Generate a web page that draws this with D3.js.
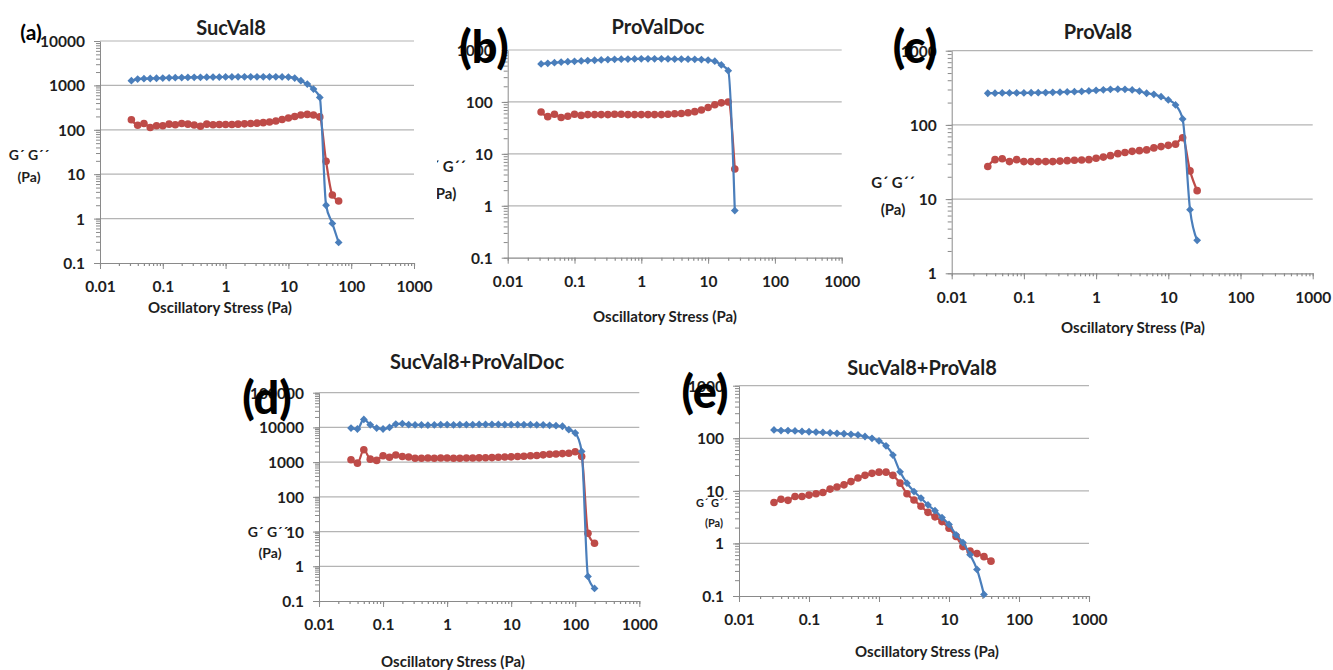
<!DOCTYPE html>
<html>
<head>
<meta charset="utf-8">
<script src="https://cdn.jsdelivr.net/npm/d3@7"></script>
<style>
  body { margin: 0; background: #fff; }
  svg { display: block; font-family: Lato, "Open Sans", sans-serif; font-weight: bold; }
</style>
</head>
<body>
<script>
var width = 1333;
var height = 670;

// shared oscillatory stress steps (Pa), 10 per decade
var stress = [0.0316, 0.0398, 0.0501, 0.0631, 0.0794, 0.1, 0.126, 0.158, 0.2, 0.251,
              0.316, 0.398, 0.501, 0.631, 0.794, 1, 1.26, 1.58, 2, 2.51,
              3.16, 3.98, 5.01, 6.31, 7.94, 10, 12.6, 15.8, 20, 25.1,
              31.6, 39.8, 50.1, 63.1, 79.4, 100, 126, 158, 200];

var xTicks = [0.01, 0.1, 1, 10, 100, 1000];

// (a) SucVal8
var gpA  = [1275, 1390, 1420, 1430, 1450, 1460, 1480, 1490, 1500, 1510, 1520, 1520, 1530, 1540, 1540, 1550, 1550,
            1560, 1560, 1560, 1560, 1560, 1560, 1560, 1550, 1540, 1460, 1275, 1070, 826, 535, 2.0, 0.78, 0.29];
var gppA = [168, 127, 139, 113, 123, 123, 134, 130, 139, 134, 128, 120, 134, 130, 132, 132, 132,
            134, 136, 139, 141, 145, 150, 158, 170, 185, 200, 215, 222, 215, 195, 19.5, 3.4, 2.5];
var yTicksA = [0.1, 1, 10, 100, 1000, 10000];

// (b) ProValDoc
var gpB  = [540, 555, 570, 585, 595, 605, 615, 625, 635, 645, 655, 660, 665, 670, 672,
            675, 675, 675, 675, 672, 670, 668, 665, 662, 655, 640, 610, 515, 400, 0.81];
var gppB = [64, 52, 58, 50, 53, 58, 55, 57, 57, 57, 57, 58, 58, 57, 57,
            57, 57, 57, 57, 58, 59, 60, 62, 65, 70, 78, 88, 96, 100, 5.1];
var yTicksB = [0.1, 1, 10, 100, 1000];

// (c) ProVal8
var gpC  = [267, 268, 270, 270, 270, 270, 271, 272, 273, 275, 276, 278, 280, 283, 287,
            292, 297, 302, 303, 302, 296, 285, 267, 258, 240, 217, 186, 120, 7.2, 2.78];
var gppC = [27.5, 34, 35, 32, 34, 32, 32, 32, 32, 32, 32.5, 33, 33.4, 33.6, 34,
            35.6, 36.8, 38.5, 41, 42.5, 44, 45, 46, 49, 51, 53, 55, 67, 24, 13];
var yTicksC = [1, 10, 100, 1000];

// (d) SucVal8+ProValDoc
var gpD  = [9560, 9000, 17000, 11900, 9600, 9000, 10000, 12500, 12800, 12000, 11800, 11800, 11600,
            11800, 12000, 12000, 11800, 12000, 12000, 12000, 12200, 12200, 12200, 12200, 12000, 12000,
            12000, 12000, 12000, 11800, 11800, 11500, 11200, 10800, 8600, 6900, 2040, 0.51, 0.23];
var gppD = [1170, 935, 2270, 1220, 1120, 1520, 1380, 1600, 1460, 1400, 1300, 1300, 1320,
            1300, 1320, 1320, 1300, 1300, 1320, 1320, 1330, 1340, 1350, 1380, 1400, 1420,
            1450, 1480, 1520, 1560, 1620, 1680, 1720, 1760, 1800, 2000, 1450, 8.9, 4.6];
var yTicksD = [0.1, 1, 10, 100, 1000, 10000, 100000];

// (e) SucVal8+ProVal8
var gpE  = [144, 140, 140, 138, 135, 133, 131, 129, 127, 124, 122, 119, 116, 108, 100, 89,
            72, 48, 23, 14, 9.7, 7.3, 5.4, 4.2, 3.1, 2.3, 1.46, 1.04, 0.61, 0.32, 0.107];
var gppE = [6.0, 6.9, 6.6, 7.8, 7.8, 8.3, 8.8, 9.3, 10.8, 11.8, 13, 15, 17.5, 19.7, 21.5, 22.7,
            22.7, 19.7, 14, 8.8, 6.7, 5.1, 3.9, 3.2, 2.6, 1.95, 1.36, 0.87, 0.72, 0.64, 0.56, 0.46];
var yTicksE = [0.1, 1, 10, 100, 1000];

var names = ['SucVal8', 'ProValDoc', 'ProVal8', 'SucVal8+ProValDoc', 'SucVal8+ProVal8'];
var letters = ['(a)', '(b)', '(c)', '(d)', '(e)'];

var blue = '#4a7ebb';
var red = '#be4b48';
var gridColor = '#b4b4b4';
var axisColor = '#8a8a8a';
var textColor = '#1e1e1e';

var panels = [
  { gp: gpA, gpp: gppA, yTicks: yTicksA, x0: 100, x1: 414, y0: 41, y1: 263,
    title: [231, 28], letter: [31, 33], letterSize: 21,
    ylab: [29, 155, 29, 177], ylabSize: 14, xtitle: [220, 308] },
  { gp: gpB, gpp: gppB, yTicks: yTicksB, x0: 507.7, x1: 841.7, y0: 50, y1: 257.7,
    title: [658, 27], letter: [484, 47], letterSize: 45,
    ylab: [444, 167, 444, 194], ylabSize: 15, xtitle: [665, 317], clipLeft: 437 },
  { gp: gpC, gpp: gppC, yTicks: yTicksC, x0: 951.7, x1: 1312.7, y0: 50.7, y1: 273.3,
    title: [1098, 32], letter: [915, 47], letterSize: 45,
    ylab: [893, 183, 893, 210], ylabSize: 15, xtitle: [1133, 328] },
  { gp: gpD, gpp: gppD, yTicks: yTicksD, x0: 319, x1: 639.3, y0: 392.7, y1: 601,
    title: [477, 362], letter: [267, 398], letterSize: 45,
    ylab: [268, 532, 270, 553], ylabSize: 14, xtitle: [453, 662] },
  { gp: gpE, gpp: gppE, yTicks: yTicksE, x0: 739, x1: 1089, y0: 385.7, y1: 596,
    title: [922, 368], letter: [705, 392], letterSize: 45,
    ylab: [712, 503, 714, 523], ylabSize: 11, xtitle: [927, 652] }
];

var svg = d3.select('body').append('svg')
    .attr('width', width)
    .attr('height', height);

function diamond(r) {
  return 'M0,' + (-r) + 'L' + r + ',0L0,' + r + 'L' + (-r) + ',0Z';
}

panels.forEach(function(p, i) {
  var g = svg.append('g');
  var x = d3.scaleLog().domain([0.01, 1000]).range([p.x0, p.x1]);
  var y = d3.scaleLog().domain(d3.extent(p.yTicks)).range([p.y1, p.y0]);

  // horizontal gridlines
  g.selectAll('line.grid')
    .data(p.yTicks.slice(1))
    .enter().append('line')
      .attr('class', 'grid')
      .attr('x1', p.x0).attr('x2', p.x1)
      .attr('y1', function(d) { return y(d); })
      .attr('y2', function(d) { return y(d); })
      .attr('stroke', gridColor)
      .attr('stroke-width', 1.2);

  // y axis with minor ticks
  g.append('g')
    .attr('transform', 'translate(' + p.x0 + ',0)')
    .call(d3.axisLeft(y).tickValues(y.ticks()).tickSize(4).tickSizeOuter(0).tickFormat(''))
    .call(function(a) { a.selectAll('line, path').attr('stroke', axisColor); });

  var ya = g.append('g')
    .attr('transform', 'translate(' + p.x0 + ',0)')
    .call(d3.axisLeft(y).tickValues(p.yTicks).tickSize(6).tickSizeOuter(0)
      .tickFormat(function(d) { return String(d); }));
  ya.select('.domain').remove();
  ya.selectAll('line').attr('stroke', axisColor);
  ya.selectAll('text')
    .attr('x', -15)
    .attr('dy', '0.35em')
    .attr('fill', textColor)
    .style('font-family', 'Lato, sans-serif')
    .style('font-weight', 'bold')
    .style('font-size', '15.5px');

  // x axis with minor ticks
  g.append('g')
    .attr('transform', 'translate(0,' + p.y1 + ')')
    .call(d3.axisBottom(x).tickValues(x.ticks()).tickSize(3).tickSizeOuter(0).tickFormat(''))
    .call(function(a) { a.selectAll('line, path').attr('stroke', axisColor).attr('stroke-width', 1.2); });

  var xa = g.append('g')
    .attr('transform', 'translate(0,' + p.y1 + ')')
    .call(d3.axisBottom(x).tickValues(xTicks).tickSize(6).tickSizeOuter(0)
      .tickFormat(function(d) { return String(d); }));
  xa.select('.domain').remove();
  xa.selectAll('line').attr('stroke', axisColor);
  xa.selectAll('text')
    .attr('y', 24)
    .attr('dy', '0.35em')
    .attr('fill', textColor)
    .style('font-family', 'Lato, sans-serif')
    .style('font-weight', 'bold')
    .style('font-size', '15.5px');

  // series
  var line = d3.line()
    .x(function(d) { return x(d[0]); })
    .y(function(d) { return y(d[1]); })
    .curve(d3.curveMonotoneX);

  var gppData = p.gpp.map(function(v, k) { return [stress[k], v]; });
  var gpData = p.gp.map(function(v, k) { return [stress[k], v]; });

  g.append('path').datum(gppData)
    .attr('d', line).attr('fill', 'none')
    .attr('stroke', red).attr('stroke-width', 2.2);
  g.selectAll('circle.gpp').data(gppData).enter().append('circle')
    .attr('class', 'gpp')
    .attr('cx', function(d) { return x(d[0]); })
    .attr('cy', function(d) { return y(d[1]); })
    .attr('r', 3.8)
    .attr('fill', red);

  g.append('path').datum(gpData)
    .attr('d', line).attr('fill', 'none')
    .attr('stroke', blue).attr('stroke-width', 2.2);
  g.selectAll('path.gp').data(gpData).enter().append('path')
    .attr('class', 'gp')
    .attr('d', diamond(3.9))
    .attr('transform', function(d) { return 'translate(' + x(d[0]) + ',' + y(d[1]) + ')'; })
    .attr('fill', blue);

  // titles and labels
  g.append('text')
    .attr('x', p.title[0]).attr('y', p.title[1])
    .attr('dy', '0.35em')
    .attr('text-anchor', 'middle')
    .attr('fill', textColor)
    .style('font-size', '20px')
    .text(names[i]);

  g.append('text')
    .attr('x', p.xtitle[0]).attr('y', p.xtitle[1])
    .attr('dy', '0.35em')
    .attr('text-anchor', 'middle')
    .attr('fill', textColor)
    .style('font-size', '15px')
    .text('Oscillatory Stress (Pa)');

  var lab = g.append('g');
  if (p.clipLeft) {
    svg.append('clipPath').attr('id', 'clip' + i)
      .append('rect')
        .attr('x', p.clipLeft).attr('y', 0)
        .attr('width', 200).attr('height', height);
    lab.attr('clip-path', 'url(#clip' + i + ')');
  }
  lab.append('text')
    .attr('x', p.ylab[0]).attr('y', p.ylab[1])
    .attr('dy', '0.35em')
    .attr('text-anchor', 'middle')
    .attr('fill', textColor)
    .style('font-size', p.ylabSize + 'px')
    .text('G\u00B4 G\u00B4\u00B4');
  lab.append('text')
    .attr('x', p.ylab[2]).attr('y', p.ylab[3])
    .attr('dy', '0.35em')
    .attr('text-anchor', 'middle')
    .attr('fill', textColor)
    .style('font-size', p.ylabSize + 'px')
    .text('(Pa)');

  g.append('text')
    .attr('x', p.letter[0]).attr('y', p.letter[1])
    .attr('dy', '0.35em')
    .attr('text-anchor', 'middle')
    .attr('fill', '#000')
    .style('font-size', p.letterSize + 'px')
    .style('font-weight', i === 0 ? 'bold' : '900')
    .text(letters[i]);
});
</script>
</body>
</html>
